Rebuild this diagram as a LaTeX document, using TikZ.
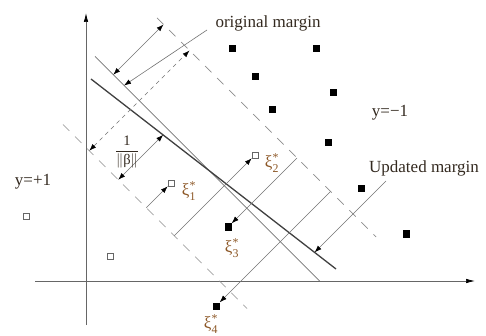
\documentclass[tikz,border=0pt]{standalone}
\usepackage{amsmath}
\usepackage{fontspec}
\setmainfont{Liberation Serif}
\usetikzlibrary{arrows.meta}

\definecolor{linegray}{gray}{0.45}
\definecolor{dashgray}{gray}{0.55}
\definecolor{axisgray}{gray}{0.4}
\definecolor{textdark}{rgb}{0.2,0.16,0.12}
\definecolor{xibrown}{rgb}{0.55,0.34,0.15}

\begin{document}
\begin{tikzpicture}[x=1pt, y=-1pt,
  txt/.style={font=\fontsize{17}{20}\selectfont, text=textdark, inner sep=0pt},
  xilbl/.style={font=\fontsize{17}{20}\selectfont, text=xibrown, inner sep=0pt},
  axis/.style={draw=axisgray, line width=0.7pt, -{Latex[length=9pt,width=4.5pt,black]}},
  margin/.style={draw=linegray, line width=0.7pt},
  boundary/.style={draw=black!75, line width=1.3pt},
  dashline/.style={draw=dashgray, line width=0.7pt, dash pattern=on 9pt off 8pt},
  ptr/.style={draw=linegray, line width=0.6pt, -{Latex[length=7pt,width=5pt,black]}},
  dptr/.style={draw=linegray, line width=0.6pt, {Latex[length=7pt,width=5pt,black]}-{Latex[length=7pt,width=5pt,black]}},
  negpt/.style={rectangle, fill=black, minimum size=7pt, inner sep=0pt},
  pospt/.style={rectangle, draw=black!60, fill=white, line width=0.6pt, minimum size=6pt, inner sep=0pt}]
\useasboundingbox (0,0) rectangle (486,336);

% axes
\coordinate (xs) at (35,281);
\coordinate (xe) at (475,281);
\coordinate (ys) at (86,325);
\coordinate (ye) at (86,13);
\draw[axis] (xs) -- (xe);
\draw[axis] (ys) -- (ye);

% original separating line, updated line and the two margins
\coordinate (origA) at (95,56.5);
\coordinate (origB) at (319.5,281);
\coordinate (updA) at (91,79);
\coordinate (updB) at (336,269);
\coordinate (upA) at (157,18);
\coordinate (upB) at (376,237);
\coordinate (loA) at (63,124.5);
\coordinate (loB) at (247,308.5);
\draw[margin] (origA) -- (origB);
\draw[boundary] (updA) -- (updB);
\draw[dashline] (upA) -- (upB);
\draw[dashline] (loA) -- (loB);

% points of class y=-1
\node[negpt] (n1) at (232,49) {};
\node[negpt] (n2) at (316,49) {};
\node[negpt] (n3) at (255,77) {};
\node[negpt] (n4) at (333,93) {};
\node[negpt] (n5) at (272,110) {};
\node[negpt] (n6) at (328,143) {};
\node[negpt] (n7) at (361,189) {};
\node[negpt] (n8) at (406,234) {};
\node[negpt] (xi3) at (228,227) {};
\node[negpt] (xi4) at (216,306) {};

% points of class y=+1
\node[pospt] (p1) at (26,216) {};
\node[pospt] (p2) at (110,256) {};
\node[pospt] (xi1) at (171,183) {};
\node[pospt] (xi2) at (255,155) {};

% margin widths
\coordinate (mwA) at (113.25,74.75);
\coordinate (mwB) at (163.5,24.5);
\draw[dptr] (mwA) -- (mwB);
\coordinate (nwA) at (89.25,150.75);
\coordinate (nwB) at (189.5,50.5);
\draw[dptr, dash pattern=on 4pt off 4pt] (nwA) -- (nwB);
\coordinate (uwA) at (118.25,179.75);
\coordinate (uwB) at (163.1,134.9);
\draw[dptr] (uwA) -- (uwB);

% slacks
\coordinate (s1) at (146.25,207.75);
\coordinate (s2) at (174.25,235.75);
\coordinate (s3) at (297,158);
\coordinate (s4) at (330.5,191.5);
\draw[ptr] (s1) -- (xi1);
\draw[ptr] (s2) -- (xi2);
\draw[ptr] (s3) -- (xi3);
\draw[ptr] (s4) -- (xi4);

% labels
\node[txt] (origlbl) at (268,23) {original margin};
\node[txt] (updlbl) at (424,168) {Updated margin};
\node[txt] (pluslbl) at (33,182) {y=+1};
\node[txt] (minuslbl) at (390,113) {y=\textminus1};
\node[txt, font=\fontsize{14.5}{16}\selectfont] (invnorm) at (127,152) {$\dfrac{\text{1}}{\|\text{β}\|}$};
\node[xilbl] (xi1lbl) at (189,191) {ξ$^{\text{*}}_{\text{1}}$};
\node[xilbl] (xi2lbl) at (272,163) {ξ$^{\text{*}}_{\text{2}}$};
\node[xilbl] (xi3lbl) at (232,248) {ξ$^{\text{*}}_{\text{3}}$};
\node[xilbl] (xi4lbl) at (211,324) {ξ$^{\text{*}}_{\text{4}}$};

% leaders
\coordinate (origpt) at (124,85.5);
\coordinate (updpt) at (314.6,252.4);
\coordinate (origft) at (207,30);
\coordinate (updft) at (386,181);
\draw[ptr] (origft) -- (origpt);
\draw[ptr] (updft) -- (updpt);
\end{tikzpicture}
\end{document}
